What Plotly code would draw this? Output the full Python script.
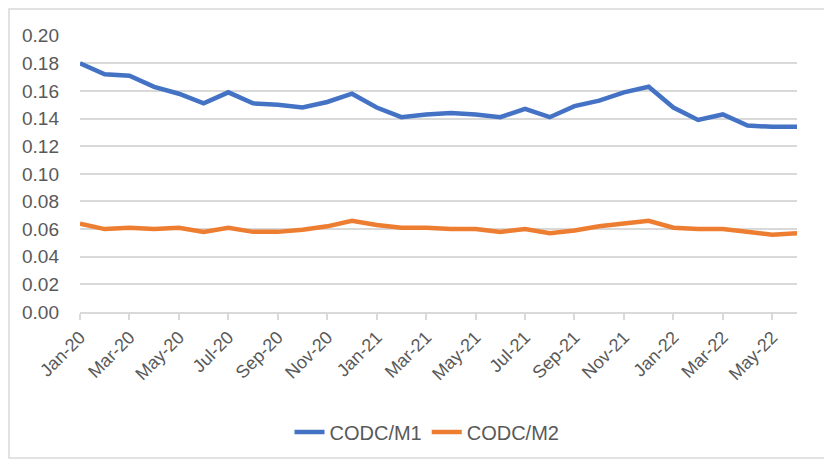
import plotly.graph_objects as go

months = ["Jan-20","Feb-20","Mar-20","Apr-20","May-20","Jun-20","Jul-20","Aug-20","Sep-20","Oct-20","Nov-20","Dec-20",
          "Jan-21","Feb-21","Mar-21","Apr-21","May-21","Jun-21","Jul-21","Aug-21","Sep-21","Oct-21","Nov-21","Dec-21",
          "Jan-22","Feb-22","Mar-22","Apr-22","May-22","Jun-22"]
codc_m1 = [0.180,0.172,0.171,0.163,0.158,0.151,0.159,0.151,0.150,0.148,0.152,0.158,
           0.148,0.141,0.143,0.144,0.143,0.141,0.147,0.141,0.149,0.153,0.159,0.163,
           0.148,0.139,0.143,0.135,0.134,0.134]
codc_m2 = [0.064,0.060,0.061,0.060,0.061,0.058,0.061,0.058,0.058,0.0595,0.062,0.066,
           0.063,0.061,0.061,0.060,0.060,0.058,0.060,0.057,0.059,0.062,0.064,0.066,
           0.061,0.060,0.060,0.058,0.056,0.057]
y_ticks = [0.00,0.02,0.04,0.06,0.08,0.10,0.12,0.14,0.16,0.18,0.20]

idx = list(range(len(months)))
tick_idx = idx[::2]
tick_text = months[::2]

font_family = "Liberation Sans, Arial, sans-serif"
txt_color = "#595959"

# plot area in page pixels (page has an 8px body margin)
L, R, T, B = 72, 43, 27, 156
PW, PH = 832 - L - R, 460 - T - B

def px_x(page_x):
    return (page_x - 8 - L) / PW

def px_y(page_y):
    return (460 - B - (page_y - 8)) / PH

fig = go.Figure()
fig.add_trace(go.Scatter(x=idx, y=codc_m1, mode="lines", name="CODC/M1",
                         line=dict(color="#4472C4", width=4.5)))
fig.add_trace(go.Scatter(x=idx, y=codc_m2, mode="lines", name="CODC/M2",
                         line=dict(color="#ED7D31", width=4.5)))

fig.update_layout(
    width=832, height=460,
    margin=dict(l=L, r=R, t=T, b=B),
    paper_bgcolor="white", plot_bgcolor="white",
    font=dict(family=font_family, size=18, color=txt_color),
    showlegend=True,
    legend=dict(orientation="h", x=px_x(427), xanchor="center", y=px_y(432), yanchor="middle",
                font=dict(size=20, color=txt_color)),
    xaxis=dict(range=[0, len(months) - 1], tickmode="array", tickvals=tick_idx, ticktext=tick_text,
               tickangle=-45, showgrid=False, zeroline=False, automargin=False,
               showline=True, linecolor="#d9d9d9", linewidth=1.5,
               ticks="outside", ticklen=6, tickcolor="#d9d9d9", tickwidth=1.5,
               tickfont=dict(size=18, color=txt_color)),
    yaxis=dict(range=[0, 0.2005], tickmode="array", tickvals=y_ticks,
               ticktext=[f"{v:.2f}" for v in y_ticks], automargin=False,
               showgrid=True, gridcolor="#d9d9d9", gridwidth=1.5, zeroline=False,
               showline=False, ticks="", ticklabelstandoff=20,
               tickfont=dict(size=19, color=txt_color)),
    shapes=[dict(type="rect", xref="paper", yref="paper",
                 x0=px_x(9), x1=px_x(850),
                 y0=px_y(458), y1=px_y(9),
                 line=dict(color="#d9d9d9", width=1.5), fillcolor="rgba(0,0,0,0)", layer="below")],
)

fig.write_html("out.html")
